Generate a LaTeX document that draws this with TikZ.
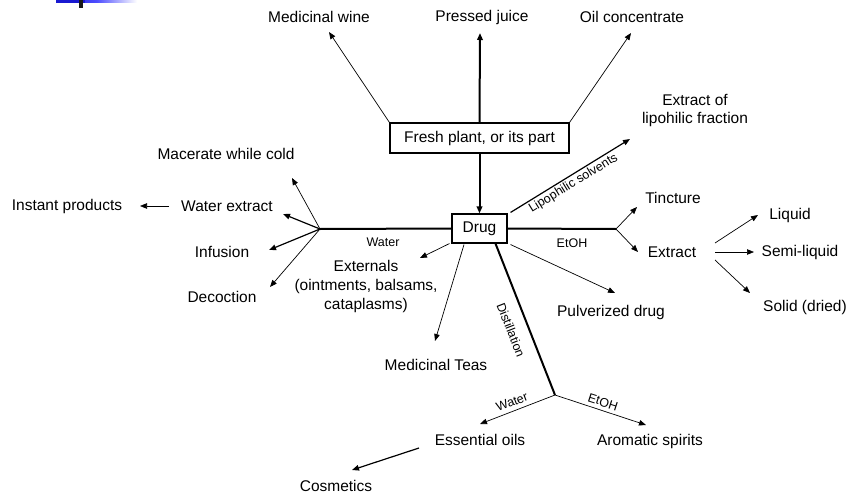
\documentclass[tikz,border=0pt]{standalone}
\usepackage{fontspec}
\setmainfont{Liberation Sans}
\usetikzlibrary{arrows.meta}
\begin{document}
\begin{tikzpicture}[x=1pt,y=-1pt,
  lbl/.style={inner sep=0pt,font=\fontsize{15.5}{19}\selectfont,align=center},
  small/.style={inner sep=0pt,font=\fontsize{12.5}{15}\selectfont},
  boxn/.style={draw,line width=1.1pt,inner sep=0pt,font=\fontsize{15.5}{19}\selectfont},
  tip/.style={-{Triangle[length=7pt,width=5.5pt]}},
  thin/.style={line width=0.7pt},
  med/.style={line width=1.2pt},
  heavy/.style={line width=2pt}]
\useasboundingbox (0,0) rectangle (849,495);
% slide decoration
\shade[left color=blue!80!black!90,right color=white,middle color=blue!70] (56,0) rectangle (137,3);
\fill[blue!80!black!90] (56,0) rectangle (85,3);
\fill[black!90] (79,0) rectangle (83,8);

% nodes
\node[boxn,minimum width=179pt,minimum height=30pt] (fp) at (479.5,138) {Fresh plant, or its part};
\node[boxn,minimum width=55pt,minimum height=29pt] (drug) at (479.5,228.5) {Drug};
\node[lbl] (mw) at (319,17) {Medicinal wine};
\node[lbl] (pj) at (482,17) {Pressed juice};
\node[lbl] (oc) at (632,17) {Oil concentrate};
\node[lbl] (mac) at (226,154) {Macerate while cold};
\node[lbl] (wext) at (227,206) {Water extract};
\node[lbl] (inst) at (67,206) {Instant products};
\node[lbl] (inf) at (222,252) {Infusion};
\node[lbl] (dec) at (222,297) {Decoction};
\node[lbl] (ext) at (366,286) {Externals\\(ointments, balsams,\\cataplasms)};
\node[lbl] (teas) at (436,365) {Medicinal Teas};
\node[lbl] (eo) at (480,440) {Essential oils};
\node[lbl] (aro) at (650,441) {Aromatic spirits};
\node[lbl] (cos) at (336,486) {Cosmetics};
\node[lbl] (lipo) at (695,110.5) {Extract of\\lipohilic fraction};
\node[lbl] (tinc) at (673,198) {Tincture};
\node[lbl] (extr) at (672,252) {Extract};
\node[lbl] (liq) at (790,215) {Liquid};
\node[lbl] (semi) at (800,252) {Semi-liquid};
\node[lbl] (solid) at (805,307) {Solid (dried)};
\node[lbl] (pulv) at (611,312) {Pulverized drug};
\coordinate (jW) at (320,229);
\coordinate (jE) at (616,229);
\coordinate (jD) at (555,395);

% small labels
\node[small] (lw) at (383,242) {Water};
\node[small] (le) at (572,243) {EtOH};
\node[small,rotate=31.5] (ls) at (573.5,183.5) {Lipophilic solvents};
\node[small,rotate=-68.5] (ld) at (511,330) {Distillation};
\node[small,rotate=21] (ldw) at (512,402) {Water};
\node[small,rotate=-18] (lde) at (603,402) {EtOH};

% connectors from fresh plant
\draw[heavy,tip] (fp.north) -- ([shift={(-2,16)}]pj.center);
\draw[thin,tip] (fp.north west) -- ([shift={(10,15)}]mw.center);
\draw[thin,tip] (fp.north east) -- ([shift={(-1,16)}]oc.center);
\draw[heavy,tip] (fp.south) -- (drug.north);

% water branch
\draw[heavy] (drug.west) -- (jW);
\draw[thin,tip] (jW) -- ([shift={(66,24)}]mac.center);
\draw[med,tip] (jW) -- ([shift={(56,8)}]wext.center);
\draw[med,tip] (jW) -- ([shift={(47,-2)}]inf.center);
\draw[thin,tip] (jW) -- ([shift={(48,-10)}]dec.center);
\draw[thin,tip] ([shift={(-58,0)}]wext.center) -- ([shift={(73,0)}]inst.center);

% below drug
\draw[thin,tip] ([shift={(-2,0)}]drug.south west) -- ([shift={(54,-28)}]ext.center);
\draw[thin,tip] ([shift={(-15.5,1)}]drug.south) -- ([shift={(-1,-24)}]teas.center);
\draw[heavy] ([shift={(16,0)}]drug.south) -- (jD);
\draw[thin,tip] (jD) -- ([shift={(0,-16)}]eo.center);
\draw[thin,tip] (jD) -- ([shift={(-4,-16)}]aro.center);
\draw[med,tip] ([shift={(-61,8)}]eo.center) -- ([shift={(16,-16)}]cos.center);

% right side
\draw[med,tip] ([shift={(3,-1)}]drug.north east) -- ([shift={(-65,28.5)}]lipo.center);
\draw[heavy] (drug.east) -- (jE);
\draw[thin,tip] (jE) -- ([shift={(-36,9)}]tinc.center);
\draw[thin,tip] (jE) -- ([shift={(-34,0)}]extr.center);
\draw[thin,tip] ([shift={(43,-9)}]extr.center) -- ([shift={(-32,0)}]liq.center);
\draw[thin,tip] ([shift={(43,0)}]extr.center) -- ([shift={(-46,0)}]semi.center);
\draw[thin,tip] ([shift={(43,8)}]extr.center) -- ([shift={(-55,-14)}]solid.center);
\draw[thin,tip] ([shift={(3,1)}]drug.south east) -- ([shift={(4,-19)}]pulv.center);
\end{tikzpicture}
\end{document}
